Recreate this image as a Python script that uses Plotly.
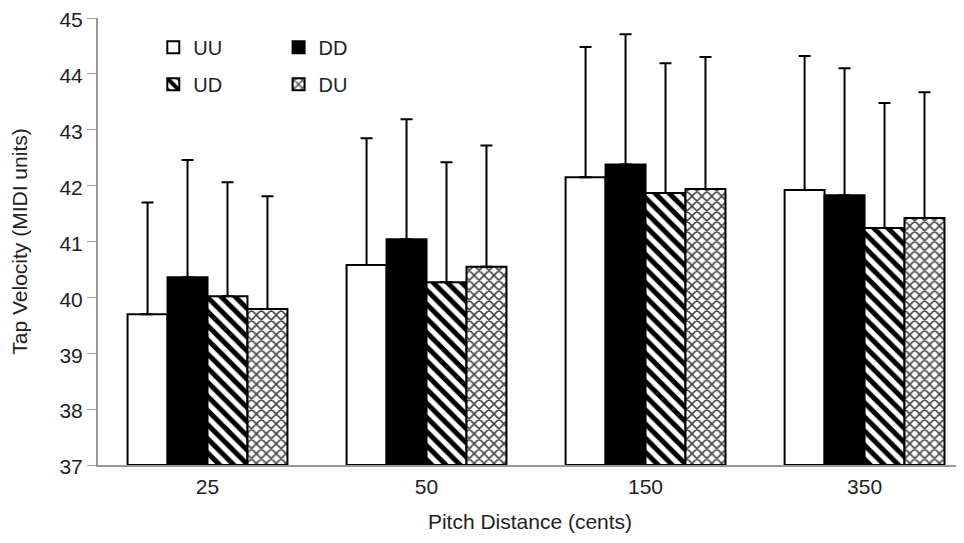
import plotly.graph_objects as go

categories = ["25", "50", "150", "350"]
series_names = ["UU", "DD", "UD", "DU"]
uu_vals = [39.70, 40.58, 42.15, 41.92]
dd_vals = [40.36, 41.04, 42.38, 41.83]
ud_vals = [40.02, 40.27, 41.87, 41.24]
du_vals = [39.79, 40.55, 41.94, 41.42]
uu_err = [2.00, 2.27, 2.33, 2.40]
dd_err = [2.10, 2.15, 2.33, 2.27]
ud_err = [2.04, 2.15, 2.32, 2.24]
du_err = [2.02, 2.17, 2.36, 2.25]
y_ticks = [37, 38, 39, 40, 41, 42, 43, 44, 45]

values = [uu_vals, dd_vals, ud_vals, du_vals]
errors = [uu_err, dd_err, ud_err, du_err]
styles = [
    dict(color="white", pattern=None),
    dict(color="black", pattern=None),
    dict(color="white", pattern=dict(shape="\\", fgcolor="black", bgcolor="white",
                                     fgopacity=1, size=10, solidity=0.5)),
    dict(color="white", pattern=dict(shape="x", fgcolor="#444444", bgcolor="white",
                                     fgopacity=1, size=7, solidity=0.4)),
]
legends = ["legend", "legend2", "legend", "legend2"]

fig = go.Figure()
for name, vals, errs, st, lg in zip(series_names, values, errors, styles, legends):
    marker = dict(color=st["color"], line=dict(color="black", width=2))
    if st["pattern"] is not None:
        marker["pattern"] = st["pattern"]
    fig.add_trace(go.Bar(
        x=categories, y=[v - 37 for v in vals], base=37, name=name,
        marker=marker, legend=lg, legendgroup=name,
        error_y=dict(type="data", array=errs, arrayminus=[0] * len(errs), symmetric=False,
                     color="black", thickness=2, width=6),
    ))

font_family = "Liberation Sans, Arial, sans-serif"
fig.update_layout(
    width=956, height=535,
    margin=dict(l=90, r=2, t=10, b=78),
    plot_bgcolor="white", paper_bgcolor="white",
    barmode="group", bargap=0.27, bargroupgap=0,
    font=dict(family=font_family, size=21, color="#222222"),
    showlegend=True,
    legend=dict(x=0.064, y=0.978, xanchor="left", yanchor="top", bgcolor="rgba(0,0,0,0)",
                font=dict(size=20), tracegroupgap=8, itemwidth=30),
    legend2=dict(x=0.209, y=0.978, xanchor="left", yanchor="top", bgcolor="rgba(0,0,0,0)",
                 font=dict(size=20), tracegroupgap=8, itemwidth=30),
    xaxis=dict(range=[-0.5, 3.445], showline=True, linecolor="#999999", linewidth=2,
               ticks="outside", tickcolor="rgba(0,0,0,0)", ticklen=2, tickfont=dict(size=21),
               automargin=False,
               title=dict(text="Pitch Distance (cents)", font=dict(size=21), standoff=17)),
    yaxis=dict(range=[37, 45.0001], tickvals=y_ticks, showline=True, linecolor="#999999", linewidth=2,
               ticks="outside", tickcolor="#999999", ticklen=9, showgrid=False, zeroline=False,
               tickfont=dict(size=21), ticklabeloverflow="allow", automargin=False,
               ticklabelshift=2,
               title=dict(text="Tap Velocity (MIDI units)", font=dict(size=21), standoff=28)),
)

fig.write_html("out.html")
